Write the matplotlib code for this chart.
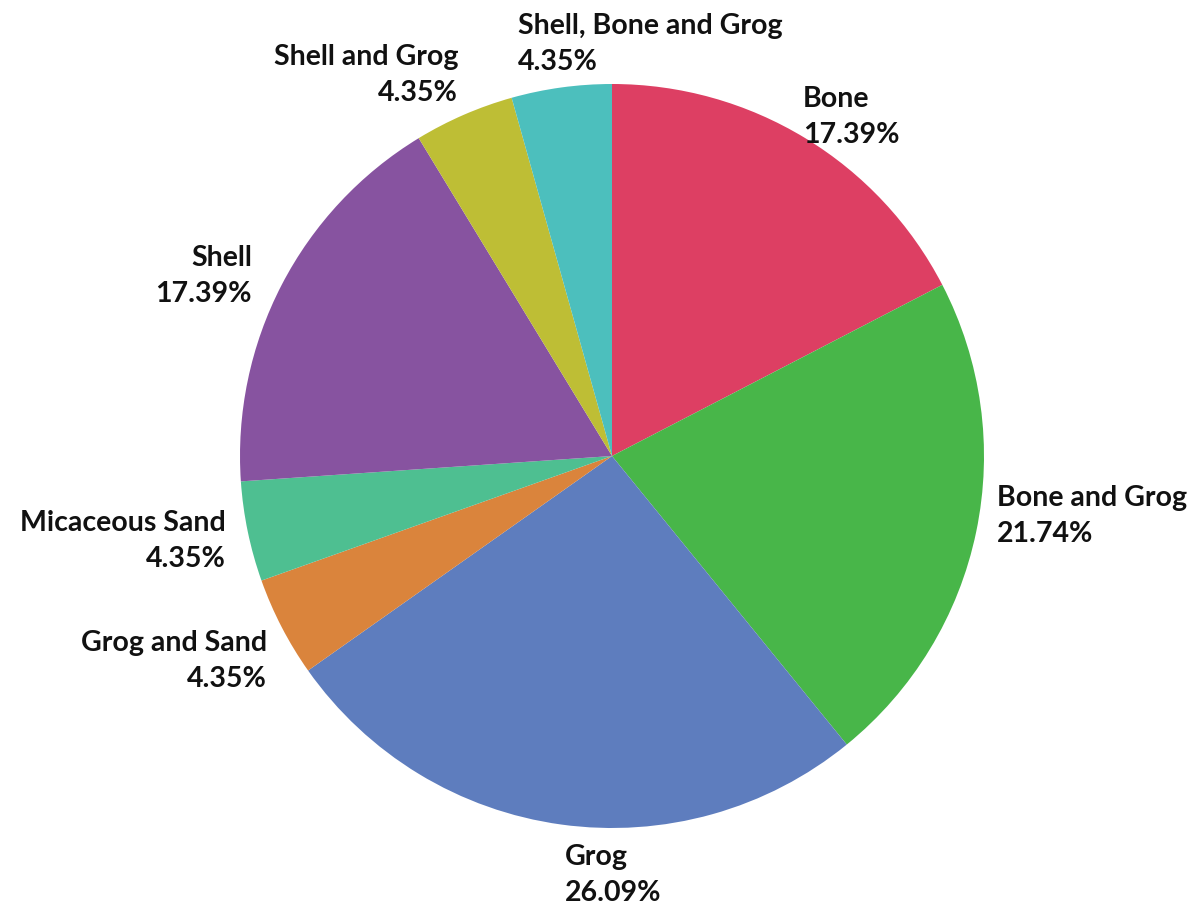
import matplotlib.pyplot as plt

# Temper types by sherd count
categories = ['Bone', 'Bone and Grog', 'Grog', 'Grog and Sand', 'Micaceous Sand',
              'Shell', 'Shell and Grog', 'Shell, Bone and Grog']
counts = [4, 5, 6, 1, 1, 4, 1, 1]
colors = ['#DD3F63', '#48B649', '#5E7DBE', '#DA843C', '#4EBF91',
          '#8753A0', '#BEBE35', '#4CBFBD']

W, H = 1197, 910

# label anchor (x, y of first line centre, in pixels from top-left) and alignment
label_pos = {
    'Bone': (803, 99, 'left'),
    'Bone and Grog': (997, 498, 'left'),
    'Grog': (565, 857, 'left'),
    'Grog and Sand': (267, 643, 'right'),
    'Micaceous Sand': (226, 523, 'right'),
    'Shell': (252, 258, 'right'),
    'Shell and Grog': (458, 57, 'right'),
    'Shell, Bone and Grog': (518, 26, 'left'),
}

plt.rcParams['font.family'] = ['Lato', 'DejaVu Sans']

fig = plt.figure(figsize=(W / 100, H / 100), dpi=100)
ax = fig.add_axes([0, 0, 1, 1])

ax.pie(counts, colors=colors, startangle=90, counterclock=False,
       center=(612, H - 456), radius=372, frame=True)
ax.set_xlim(0, W)
ax.set_ylim(0, H)
ax.set_aspect('equal')
ax.axis('off')

total = sum(counts)
for name, n in zip(categories, counts):
    x, y, ha = label_pos[name]
    pct = n / total * 100
    ax.text(x, H - y, name, ha=ha, va='center', fontsize=20.5, fontweight='bold',
            color='#111111')
    ax.text(x, H - y - 36, f'{pct:.2f}%', ha=ha, va='center', fontsize=20.5,
            fontweight='bold', color='#111111')

fig.savefig('out.png', dpi=100, facecolor='white')
